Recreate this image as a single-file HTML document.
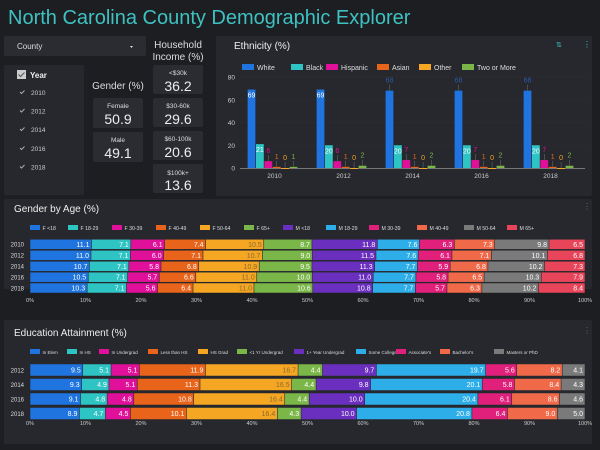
<!DOCTYPE html>
<html><head><meta charset="utf-8"><style>
html,body{margin:0;padding:0;background:#1c1e22;}
svg{display:block;font-family:"Liberation Sans",sans-serif;}
</style></head><body>
<svg id="s" width="600" height="450" viewBox="0 0 600 450">
<rect x="0" y="0" width="600" height="450" fill="#1c1e22"/>
<text x="8" y="24" font-size="20" fill="#3fc1c1">North Carolina County Demographic Explorer</text>
<g>
<rect x="4" y="36" width="142" height="20" rx="2" fill="#2a2c32"/>
<text x="17" y="49" font-size="8" fill="#ddd">County</text>
<path d="M130 46 l3 0 l-1.5 2z" fill="#ddd"/>
</g>
<g>
<rect x="4" y="65" width="80" height="130" rx="2" fill="#26282d"/>
<rect x="17" y="70" width="9" height="9" fill="#ccc"/>
<path d="M18.5 74.5 l2 2 l4 -4" stroke="#555" fill="none" stroke-width="1"/>
<text x="30" y="78" font-size="8" font-weight="bold" fill="#eee">Year</text>
<g font-size="6.5" fill="#ccc">
<path d="M20 92 l1.5 1.5 l3 -3" stroke="#aaa" fill="none"/><text x="31" y="95">2010</text>
<path d="M20 110.5 l1.5 1.5 l3 -3" stroke="#aaa" fill="none"/><text x="31" y="113.5">2012</text>
<path d="M20 129 l1.5 1.5 l3 -3" stroke="#aaa" fill="none"/><text x="31" y="132">2014</text>
<path d="M20 148 l1.5 1.5 l3 -3" stroke="#aaa" fill="none"/><text x="31" y="151">2016</text>
<path d="M20 166.5 l1.5 1.5 l3 -3" stroke="#aaa" fill="none"/><text x="31" y="169.5">2018</text>
</g></g>
<text x="118" y="89" font-size="10" fill="#ddd" text-anchor="middle">Gender (%)</text>
<g><rect x="93" y="98" width="50" height="30" rx="2" fill="#2a2c32"/>
<text x="118" y="108" font-size="6.5" fill="#ddd" text-anchor="middle">Female</text><text x="118" y="124" font-size="14" fill="#eee" text-anchor="middle">50.9</text></g>
<g><rect x="93" y="132" width="50" height="30" rx="2" fill="#2a2c32"/>
<text x="118" y="142" font-size="6.5" fill="#ddd" text-anchor="middle">Male</text><text x="118" y="158" font-size="14" fill="#eee" text-anchor="middle">49.1</text></g>
<text x="178" y="48" font-size="10" fill="#ddd" text-anchor="middle">Household</text>
<text x="178" y="60" font-size="10" fill="#ddd" text-anchor="middle">Income (%)</text>
<g><rect x="153" y="65" width="50" height="29" rx="2" fill="#2a2c32"/>
<text x="178" y="75" font-size="6.5" fill="#ddd" text-anchor="middle">&lt;$30k</text><text x="178" y="91" font-size="14" fill="#eee" text-anchor="middle">36.2</text></g>
<g><rect x="153" y="98" width="50" height="29" rx="2" fill="#2a2c32"/>
<text x="178" y="108" font-size="6.5" fill="#ddd" text-anchor="middle">$30-60k</text><text x="178" y="124" font-size="14" fill="#eee" text-anchor="middle">29.6</text></g>
<g><rect x="153" y="131" width="50" height="29" rx="2" fill="#2a2c32"/>
<text x="178" y="141" font-size="6.5" fill="#ddd" text-anchor="middle">$60-100k</text><text x="178" y="157" font-size="14" fill="#eee" text-anchor="middle">20.6</text></g>
<g><rect x="153" y="164" width="50" height="29" rx="2" fill="#2a2c32"/>
<text x="178" y="175" font-size="6.5" fill="#ddd" text-anchor="middle">$100k+</text><text x="178" y="190" font-size="14" fill="#eee" text-anchor="middle">13.6</text></g>

<rect x="216" y="36" width="376" height="160" rx="2" fill="#26282d"/>
<text x="234" y="49" font-size="10" fill="#eee">Ethnicity (%)</text>
<text x="556" y="47" font-size="7" fill="#3fc1c1">⇅</text>
<text x="583" y="47" font-size="8" fill="#3fc1c1">⋮</text>
<g id="eth"></g>

<rect x="4" y="199" width="588" height="90" rx="2" fill="#26282d"/>
<text x="14" y="212" font-size="10" fill="#eee">Gender by Age (%)</text>
<text x="583" y="209" font-size="8" fill="#666">⋮</text>
<g id="ga"></g>

<rect x="4" y="320" width="588" height="124" rx="2" fill="#26282d"/>
<text x="14" y="336" font-size="10" fill="#eee">Education Attainment (%)</text>
<text x="583" y="333" font-size="8" fill="#666">⋮</text>
<g id="ed"></g>
</svg>
<script>
const ethYears = ['2010','2012','2014','2016','2018'];
const ethSeries = ['White','Black','Hispanic','Asian','Other','Two or More'];
const ethWhite = [69,69,68,68,68];
const ethBlack = [21,20,20,20,20];
const ethHispanic = [6,6,7,7,7];
const ethAsian = [1,1,1,1,1];
const ethOther = [0,0,0,0,0];
const ethTwo = [1,2,2,2,2];
const ethTicks = [0,20,40,60,80];

const gaYears = ['2010','2012','2014','2016','2018'];
const gaSeries = ['F <18','F 18-29','F 30-39','F 40-49','F 50-64','F 65+','M <18','M 18-29','M 30-39','M 40-49','M 50-64','M 65+'];
const ga2010 = [11.1,7.1,6.1,7.4,10.5,8.7,11.8,7.6,6.3,7.3,9.8,6.5];
const ga2012 = [11.0,7.1,6.0,7.1,10.7,9.0,11.5,7.6,6.1,7.1,10.1,6.8];
const ga2014 = [10.7,7.1,5.8,6.8,10.9,9.5,11.3,7.7,5.9,6.8,10.2,7.3];
const ga2016 = [10.5,7.1,5.7,6.6,11.0,10.0,11.0,7.7,5.8,6.5,10.3,7.9];
const ga2018 = [10.3,7.1,5.6,6.4,11.0,10.6,10.8,7.7,5.7,6.3,10.2,8.4];

const edYears = ['2012','2014','2016','2018'];
const edSeries = ['In Elem','In HS','In Undergrad','Less than HS','HS Grad','<1 Yr Undergrad','1+ Year Undergrad','Some College',"Associate's","Bachelor's",'Masters or PhD'];
const ed2012 = [9.5,5.1,5.1,11.9,16.7,4.4,9.7,19.7,5.6,8.2,4.1];
const ed2014 = [9.3,4.9,5.1,11.3,16.5,4.4,9.8,20.1,5.8,8.4,4.3];
const ed2016 = [9.1,4.8,4.8,10.8,16.4,4.4,10.0,20.4,6.1,8.6,4.6];
const ed2018 = [8.9,4.7,4.5,10.1,16.4,4.3,10.0,20.8,6.4,9.0,5.0];
const pctTicks = ['0%','10%','20%','30%','40%','50%','60%','70%','80%','90%','100%'];

const NS='http://www.w3.org/2000/svg';
const pal=['#1f74e0','#2ec4c4','#e0109a','#e8641b','#f5a623','#7ab648','#6a2fbf','#2eaee8','#e0207a','#f06a4a','#7a7a7a','#e8455a'];
function mk(p,t,a,txt){const e=document.createElementNS(NS,t);for(const k in a)e.setAttribute(k,a[k]);if(txt!==undefined)e.textContent=txt;p.appendChild(e);return e;}

(function(){
const g=document.getElementById('eth');
const y=v=>168-v*91/80;
const x0=240,x1=585,n=ethYears.length,gw=(x1-x0)/n;
const cx=i=>x0+gw*(i+0.5)-2;
const legX=[242,291,326,377,419,462];
ethSeries.forEach((s,i)=>{
 const r=mk(g,'rect',{x:legX[i],y:64,width:12,height:6,fill:pal[i]});
 
 
 const t=mk(g,'text',{x:legX[i]+15,y:70,'font-size':7,fill:'#ddd'},s);
 
 
});
ethTicks.forEach(v=>{
 if(v>0){const l=mk(g,'line',{x1:x0,x2:x1,y1:y(v),y2:y(v),stroke:'#34363c','stroke-width':0.6,'stroke-dasharray':'2,2'});
 
 }
 const t=mk(g,'text',{x:235,y:y(v)+2.5,'font-size':6.5,fill:'#ccc','text-anchor':'end'},String(v));
 
 
});
const ax=mk(g,'line',{x1:x0,x2:x1,y1:168.5,y2:168.5,stroke:'#777','stroke-width':1});


const data=[ethWhite,ethBlack,ethHispanic,ethAsian,ethOther,ethTwo];
const bw=8.4;
ethYears.forEach((yr,i)=>{
 const gx=cx(i)-bw*3;
 data.forEach((arr,j)=>{
  const v=arr[i],bx=gx+j*bw;
  const r=mk(g,'rect',{x:bx+0.3,y:y(v),width:bw-0.6,height:Math.max(168-y(v),1),fill:pal[j]});
  
  
  let lx=bx+bw/2,ly,col;
  if(v>=20&&j<2&&!(j==0&&v<69)){ly=y(v)+8;col='#fff';}
  else{mk(g,'line',{x1:lx,x2:lx,y1:y(v),y2:y(v)-6,stroke:'#666','stroke-width':0.6});ly=y(v)-8;col=j==0?'#2a5aa8':pal[j];}
  const t=mk(g,'text',{x:lx,y:ly,'font-size':7,fill:col,'text-anchor':'middle'},String(v));
  
  
 });
 const t=mk(g,'text',{x:cx(i)+2,y:178,'font-size':6.5,fill:'#ccc','text-anchor':'middle'},yr);
 
 
});
})();

function stacked(gid,years,rows,series,legX,legY,rowY,bh,tickY,prefix,legFs){
 const g=document.getElementById(gid);
 const x=v=>30+v*5.55;
 series.forEach((s,i)=>{
  const r=mk(g,'rect',{x:legX[i],y:legY-3,width:10,height:5,fill:pal[i]});
  
  
  const t=mk(g,'text',{x:legX[i]+12.5,y:legY+2,'font-size':legFs,fill:'#ddd'},s);
  
  
 });
 years.forEach((yr,i)=>{
  const t=mk(g,'text',{x:24,y:rowY[i]+2.3,'font-size':6,fill:'#ddd','text-anchor':'end'},yr);
  
  
  const row=rows[i],tot=row.reduce((a,b)=>a+b,0);
  let acc=0;
  row.forEach((v,j)=>{
   const a=x(acc/tot*100),b=x((acc+v)/tot*100);acc+=v;
   const r=mk(g,'rect',{x:a+0.3,y:rowY[i]-bh/2,width:b-a-0.6,height:bh,fill:pal[j]});
   
   
   const l=mk(g,'text',{x:b-2,y:rowY[i]+2.5,'font-size':7,fill:j==4?'#8a6a30':'#fff','text-anchor':'end'},v.toFixed(1));
   
   
  });
 });
 pctTicks.forEach((p,i)=>{
  const t=mk(g,'text',{x:x(i*10),y:tickY,'font-size':5.5,fill:'#ccc','text-anchor':'middle'},p);
  
  
 });
}
stacked('ga',gaYears,[ga2010,ga2012,ga2014,ga2016,ga2018],gaSeries,
 [30,68,112,156,200,244,283,326,369,417,464,507],228,[244.3,255.3,266.3,277.2,288],9.5,302,'gender-age',5.2);
stacked('ed',edYears,[ed2012,ed2014,ed2016,ed2018],edSeries,
 [30,67,99,148,198,237,294,356,396,440,494],352,[370,384.5,399,413.5],11.5,425,'education',4.5);
</script>
</body></html>
